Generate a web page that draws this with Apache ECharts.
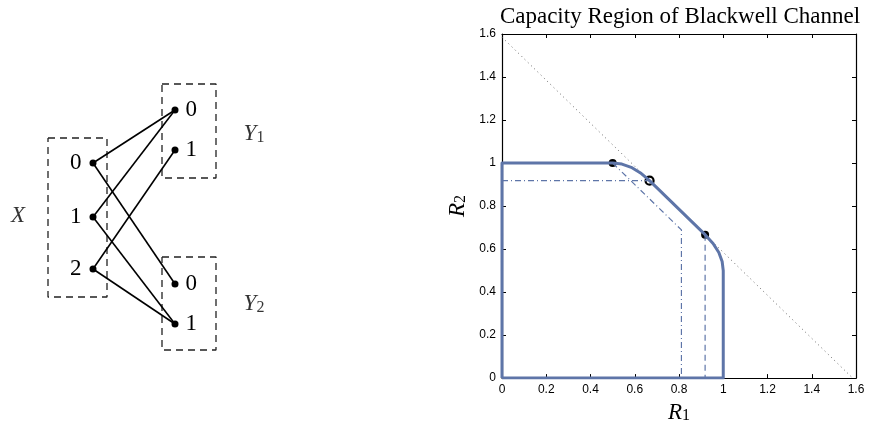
<!DOCTYPE html>
<html>
<head>
<meta charset="utf-8">
<script src="https://cdn.jsdelivr.net/npm/echarts@6/dist/echarts.min.js"></script>
<style>
  html, body { margin: 0; padding: 0; background: #fff; }
  #chart { width: 876px; height: 429px; }
</style>
</head>
<body>
<div id="chart"></div>
<script>
// capacity region boundary (R1, R2)
const boundaryR1 = [0, 0, 0.5, 0.542, 0.584, 0.626, 0.667, 0.918, 0.954, 0.98, 0.995, 1, 1, 0];
const boundaryR2 = [0, 1, 1, 0.995, 0.98, 0.954, 0.918, 0.667, 0.626, 0.584, 0.542, 0.5, 0, 0];
// sum-rate bound R1 + R2 = log2(3)
const sumR1 = [0, 1.585];
const sumR2 = [1.585, 0];
// pentagon for p = (1/2, 1/4, 1/4)
const pentA_R1 = [0.5, 0.811, 0.811];
const pentA_R2 = [1, 0.689, 0];
// uniform input pentagon
const pentB_R1 = [0, 0.667];
const pentB_R2 = [0.918, 0.918];
const pentC_R1 = [0.918, 0.918];
const pentC_R2 = [0.667, 0];
// corner points
const dotR1 = [0.5, 0.918];
const dotR2 = [1, 0.667];
const ringR1 = [0.667];
const ringR2 = [0.918];

// channel diagram (diagram units)
const xNodes = [[93, 163, '0'], [93, 217, '1'], [93, 269, '2']];
const y1Nodes = [[175, 110, '0'], [175, 150, '1']];
const y2Nodes = [[175, 284, '0'], [175, 324, '1']];
const edges = [[0, 'y1', 0], [0, 'y2', 0], [1, 'y1', 0], [1, 'y2', 1], [2, 'y1', 1], [2, 'y2', 1]];
const boxes = [
  [48, 138, 107, 297],
  [162, 84, 216, 178],
  [162, 257, 216, 350]
];
const groupLabels = [[18, 216, 'X', ''], [254, 134, 'Y', '1'], [254, 304, 'Y', '2']];

const zip = (a, b) => a.map((v, i) => [v, b[i]]);
const blue = '#5e75a8';
const serif = 'Liberation Serif';

const subRich = (size) => ({
  r: { fontFamily: serif, fontStyle: 'italic', fontSize: size, lineHeight: size, verticalAlign: 'bottom', color: '#000' },
  s: { fontFamily: serif, fontSize: Math.round(size * 0.7), lineHeight: 8, verticalAlign: 'bottom', color: '#000' }
});

const chart = echarts.init(document.getElementById('chart'));

const diagramSeries = [];
boxes.forEach((b) => {
  diagramSeries.push({
    type: 'line', xAxisIndex: 2, yAxisIndex: 2, symbol: 'none', silent: true,
    data: [[b[0], b[1]], [b[2], b[1]], [b[2], b[3]], [b[0], b[3]], [b[0], b[1]]],
    lineStyle: { color: '#222', width: 1.3, type: [7, 5] }
  });
});
edges.forEach((e) => {
  const to = e[1] === 'y1' ? y1Nodes[e[2]] : y2Nodes[e[2]];
  const from = xNodes[e[0]];
  diagramSeries.push({
    type: 'line', xAxisIndex: 2, yAxisIndex: 2, symbol: 'none', silent: true,
    data: [[from[0], from[1]], [to[0], to[1]]],
    lineStyle: { color: '#000', width: 1.6 }
  });
});
diagramSeries.push({
  type: 'scatter', xAxisIndex: 2, yAxisIndex: 2, symbolSize: 7, silent: true,
  itemStyle: { color: '#000', opacity: 1 },
  data: xNodes.map((n) => ({ value: [n[0], n[1]], label: { show: true, position: 'left', distance: 8, formatter: n[2] } })),
  label: { fontFamily: serif, fontSize: 23, color: '#000' }
});
diagramSeries.push({
  type: 'scatter', xAxisIndex: 2, yAxisIndex: 2, symbolSize: 7, silent: true,
  itemStyle: { color: '#000', opacity: 1 },
  data: y1Nodes.concat(y2Nodes).map((n) => ({ value: [n[0], n[1]], label: { show: true, position: 'right', distance: 7, formatter: n[2] } })),
  label: { fontFamily: serif, fontSize: 23, color: '#000' }
});
diagramSeries.push({
  type: 'scatter', xAxisIndex: 2, yAxisIndex: 2, symbolSize: 0, silent: true,
  data: groupLabels.map((g) => ({
    value: [g[0], g[1]],
    label: { show: true, position: 'inside', formatter: g[3] ? `{r|${g[2]}}{s|${g[3]}}` : `{r|${g[2]}}`, rich: subRich(23) }
  }))
});

const tickLabel = { fontFamily: 'Liberation Sans', fontSize: 12, color: '#000', margin: 6 };

chart.setOption({
  animation: false,
  title: {
    text: 'Capacity Region of Blackwell Channel',
    left: 675, top: 0, textAlign: 'center',
    textStyle: { fontFamily: serif, fontWeight: 'normal', fontSize: 23, color: '#000' }
  },
  grid: [
    { left: 502, top: 34, width: 354, height: 355 },
    { left: 0, top: 0, width: 300, height: 429 }
  ],
  xAxis: [
    {
      type: 'value', gridIndex: 0, min: 0, max: 1.6, interval: 0.2,
      axisLine: { lineStyle: { color: '#000', width: 1.2 } },
      axisTick: { inside: true, length: 4, lineStyle: { color: '#000' } },
      axisLabel: tickLabel,
      splitLine: { show: false },
      name: '{r|R}{s|1}', nameLocation: 'middle', nameGap: 21,
      nameTextStyle: { rich: subRich(23) }
    },
    {
      type: 'value', gridIndex: 0, position: 'top', min: 0, max: 1.6, interval: 0.2,
      axisLine: { onZero: false, lineStyle: { color: '#000', width: 1.2 } },
      axisTick: { inside: true, length: 4, lineStyle: { color: '#000' } },
      axisLabel: { show: false }, splitLine: { show: false }
    },
    { type: 'value', gridIndex: 1, min: 0, max: 300, show: false }
  ],
  yAxis: [
    {
      type: 'value', gridIndex: 0, min: 0, max: 1.6, interval: 0.2,
      axisLine: { show: true, onZero: false, lineStyle: { color: '#000', width: 1.2 } },
      axisTick: { show: true, inside: true, length: 4, lineStyle: { color: '#000' } },
      axisLabel: tickLabel,
      splitLine: { show: false },
      name: '{r|R}{s|2}', nameLocation: 'middle', nameGap: 33, nameRotate: 90,
      nameTextStyle: { rich: subRich(23) }
    },
    {
      type: 'value', gridIndex: 0, position: 'right', min: 0, max: 1.6, interval: 0.2,
      axisLine: { show: true, onZero: false, lineStyle: { color: '#000', width: 1.2 } },
      axisTick: { show: true, inside: true, length: 4, lineStyle: { color: '#000' } },
      axisLabel: { show: false }, splitLine: { show: false }
    },
    { type: 'value', gridIndex: 1, min: 0, max: 429, inverse: true, show: false }
  ],
  series: [
    {
      type: 'line', data: zip(sumR1, sumR2), symbol: 'none', silent: true,
      lineStyle: { color: '#666', width: 1, type: [1, 3.5] }
    },
    {
      type: 'line', data: zip(pentA_R1, pentA_R2), symbol: 'none', silent: true,
      lineStyle: { color: blue, width: 1.2, type: [6, 3, 1, 3] }
    },
    {
      type: 'line', data: zip(pentB_R1, pentB_R2), symbol: 'none', silent: true,
      lineStyle: { color: blue, width: 1.2, type: [6, 3, 1, 3] }
    },
    {
      type: 'line', data: zip(pentC_R1, pentC_R2), symbol: 'none', silent: true,
      lineStyle: { color: blue, width: 1.2, type: [6, 4] }
    },
    {
      type: 'line', data: zip(boundaryR1, boundaryR2), symbol: 'none', silent: true,
      lineStyle: { color: blue, width: 3, join: 'round' }
    },
    {
      type: 'scatter', data: zip(dotR1, dotR2), symbolSize: 8, silent: true,
      itemStyle: { color: '#000', opacity: 1 }
    },
    {
      type: 'scatter', data: zip(ringR1, ringR2), symbolSize: 8, silent: true,
      itemStyle: { color: '#fff', borderColor: '#000', borderWidth: 2.2, opacity: 1 }
    }
  ].concat(diagramSeries)
});
</script>
</body>
</html>
